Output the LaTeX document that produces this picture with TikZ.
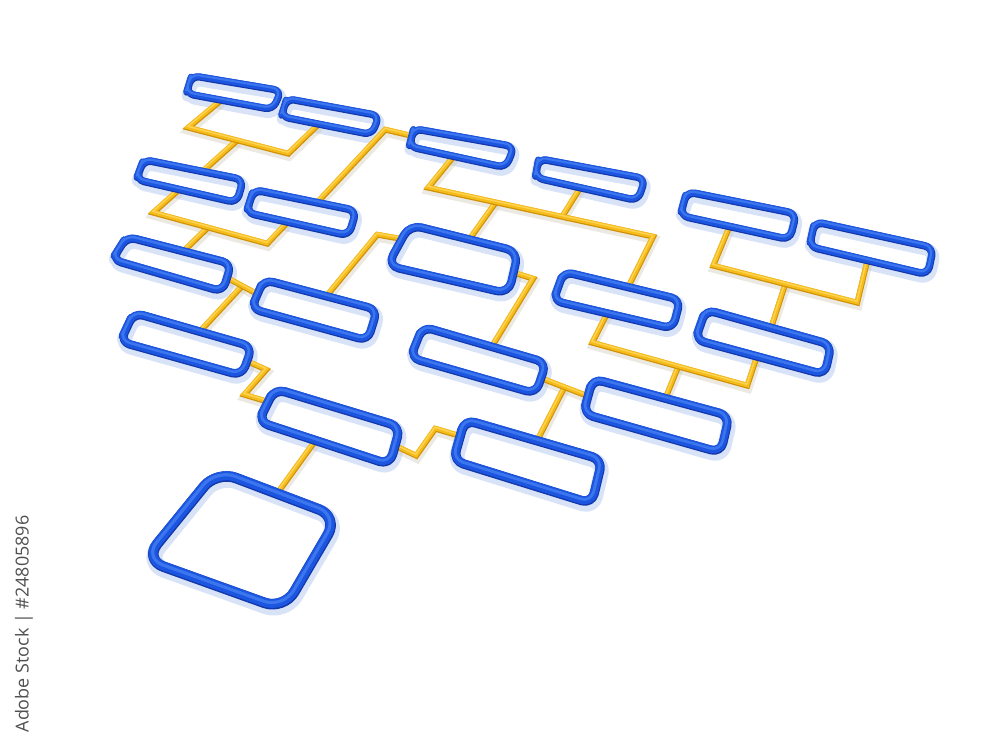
\documentclass[tikz,border=0pt]{standalone}
\usepackage{fontspec}
\newfontfamily\wmfont{Open Sans}
\usetikzlibrary{calc}
\definecolor{tubeblue}{RGB}{28,86,224}
\definecolor{tubebluedark}{RGB}{18,56,172}
\definecolor{tubebluelight}{RGB}{60,118,238}
\definecolor{tubeshadow}{RGB}{180,200,240}
\definecolor{tubeyel}{RGB}{245,188,26}
\definecolor{tubeyeldark}{RGB}{208,145,8}
\definecolor{tubeyellight}{RGB}{255,212,84}
\definecolor{yelshadow}{RGB}{205,200,182}
\definecolor{wmgray}{RGB}{80,80,80}
\pgfdeclarelayer{shadowlayer}
\pgfdeclarelayer{yellayer}
\pgfsetlayers{shadowlayer,yellayer,main}
\tikzset{
  bshadow/.style={draw=tubeshadow, line width=#1+1.6pt, opacity=0.5, line join=round, transform canvas={shift={(1.5,4)}}},
  bdark/.style={draw=tubebluedark, line width=#1, line join=round, transform canvas={shift={(0.3,0.8)}}},
  bmain/.style={draw=tubeblue, line width=0.85*#1, line join=round},
  blight/.style={draw=tubebluelight, line width=0.3*#1, line join=round, transform canvas={shift={(-0.3,-0.9)}}},
  yshadow/.style={draw=yelshadow, line width=2.5pt, opacity=0.4, line join=miter, transform canvas={shift={(1,3.5)}}},
  ydark/.style={draw=tubeyeldark, line width=1.6pt, line join=miter, transform canvas={shift={(0.3,0.8)}}},
  ymain/.style={draw=tubeyel, line width=1.3pt, line join=miter},
  ylight/.style={draw=tubeyellight, line width=0.4pt, line join=miter, transform canvas={shift={(-0.2,-0.7)}}},
  wmtext/.style={rotate=90, text=wmgray, font=\wmfont\fontsize{5.1}{6}\selectfont, inner sep=0pt}
}
% box: name, TL, TR, BR, BL, corner, tube width
\newcommand{\fcbox}[7]{%
  \coordinate (#1-1) at ($(#2)+(-1.5,-3)$);
  \coordinate (#1-2) at ($(#3)+(2,-3)$);
  \coordinate (#1-3) at ($(#4)+(1.5,3)$);
  \coordinate (#1-4) at ($(#5)+(-2,3)$);
  \coordinate (#1-s) at ($(#1-1)!0.5!(#1-4)$);
  \begin{pgfonlayer}{shadowlayer}
    \draw[bshadow=#7, rounded corners=#6] (#1-s) -- (#1-1) -- (#1-2) -- (#1-3) -- (#1-4) -- cycle;
  \end{pgfonlayer}
  \draw[bdark=#7, rounded corners=#6] (#1-s) -- (#1-1) -- (#1-2) -- (#1-3) -- (#1-4) -- cycle;
  \draw[bmain=#7, rounded corners=#6] (#1-s) -- (#1-1) -- (#1-2) -- (#1-3) -- (#1-4) -- cycle;
  \draw[blight=#7, rounded corners=#6] (#1-s) -- (#1-1) -- (#1-2) -- (#1-3) -- (#1-4) -- cycle;
}
\newcommand{\conn}[1]{%
  \begin{pgfonlayer}{shadowlayer}\draw[yshadow] #1;\end{pgfonlayer}
  \begin{pgfonlayer}{yellayer}\draw[ydark] #1; \draw[ymain] #1; \draw[ylight] #1;\end{pgfonlayer}
}
% point where the line from #2 towards the vanishing point meets edge #3--#4
\newcommand{\hit}[4]{%
  \coordinate (#1) at (intersection cs: first line={(#2)--(V)}, second line={(#3)--(#4)});
}
\begin{document}
\begin{tikzpicture}[x=0.01cm,y=-0.01cm]
\begin{pgfonlayer}{shadowlayer}
\fill[white] (0,0) rectangle (1000,745);
\end{pgfonlayer}
\useasboundingbox (0,0) rectangle (1000,745);
\coordinate (V) at (1075,-610);

% boxes
\fcbox{B1}{193,78}{279,93}{271,106}{188,90}{2.2pt}{2pt}
\fcbox{B2}{288,101}{377,118}{370,131}{283,113}{2.2pt}{2pt}
\fcbox{B3}{415,131}{512,149}{504,164}{411,143}{2.3pt}{2.05pt}
\fcbox{B4}{540,161}{643,181}{636,197}{537,174}{2.3pt}{2.05pt}
\fcbox{B5}{688,194}{794,216}{788,236}{682,212}{2.4pt}{2.1pt}
\fcbox{B6}{816,224}{931,250}{926,271}{811,243}{2.4pt}{2.1pt}
\fcbox{B7}{145,162}{241,182}{235,199}{138,176}{2.3pt}{2.1pt}
\fcbox{B8}{255,192}{354,213}{347,232}{248,209}{2.4pt}{2.15pt}
\fcbox{B9}{411,227}{516,254}{507,290}{389,262}{3.4pt}{2.35pt}
\fcbox{B10}{565,274}{678,302}{671,325}{555,297}{2.6pt}{2.3pt}
\fcbox{B11}{707,312}{829,347}{823,371}{697,336}{2.7pt}{2.4pt}
\fcbox{B12}{128,239}{229,266}{221,288}{114,256}{2.6pt}{2.3pt}
\fcbox{B13}{265,282}{375,312}{366,337}{253,305}{2.7pt}{2.35pt}
\fcbox{B14}{424,329}{544,365}{534,390}{412,354}{2.8pt}{2.4pt}
\fcbox{B15}{594,381}{727,418}{719,449}{585,410}{2.9pt}{2.5pt}
\fcbox{B16}{135,315}{250,349}{240,372}{122,338}{2.8pt}{2.4pt}
\fcbox{B17}{276,391}{398,429}{388,461}{260,418}{3pt}{2.6pt}
\fcbox{B18}{466,422}{600,462}{590,500}{455,457}{3pt}{2.65pt}
\fcbox{B19}{218,473}{336,519}{282,606}{146,556}{5.8pt}{3pt}

% C1: B1, B2 -> B7
\coordinate (c1a) at (188,127);
\coordinate (c1b) at (288,153);
\coordinate (c1j) at ($(c1a)!0.49!(c1b)$);
\hit{c1p}{c1a}{B1-4}{B1-3}
\hit{c1q}{c1b}{B2-4}{B2-3}
\hit{c1r}{c1j}{B7-1}{B7-2}
\conn{(c1j) -- (c1r)}
\conn{(c1p) -- (c1a) -- (c1b) -- (c1q)}

% C2: B7, B8 -> B12
\coordinate (c2a) at (153,212);
\coordinate (c2b) at (267,243);
\coordinate (c2j) at ($(c2a)!0.48!(c2b)$);
\hit{c2p}{c2a}{B7-4}{B7-3}
\hit{c2q}{c2b}{B8-4}{B8-3}
\hit{c2r}{c2j}{B12-1}{B12-2}
\conn{(c2j) -- (c2r)}
\conn{(c2p) -- (c2a) -- (c2b) -- (c2q)}

% C3: B8 -> B3
\coordinate (c3c) at (385,129);
\hit{c3p}{c3c}{B8-1}{B8-2}
\coordinate (c3q) at ($(B3-1)!0.4!(B3-4)$);
\conn{(c3p) -- (c3c) -- (c3q)}

% C4: B3, B4 -> B9, B10
\coordinate (c4a) at (428,187);
\coordinate (c4e) at (653,236);
\coordinate (c4b) at ($(c4a)!0.595!(c4e)$);
\coordinate (c4j) at ($(c4a)!0.3!(c4e)$);
\hit{c4p}{c4a}{B3-4}{B3-3}
\hit{c4q}{c4b}{B4-4}{B4-3}
\hit{c4r}{c4j}{B9-1}{B9-2}
\hit{c4s}{c4e}{B10-1}{B10-2}
\conn{(c4j) -- (c4r)}
\conn{(c4b) -- (c4q)}
\conn{(c4p) -- (c4a) -- (c4e) -- (c4s)}

% C5: B9 -> B14
\coordinate (c5f) at (533,278);
\coordinate (c5p) at ($(B9-2)!0.5!(B9-3)$);
\hit{c5q}{c5f}{B14-1}{B14-2}
\conn{(c5p) -- (c5f) -- (c5q)}

% C6: B13 -> B9
\coordinate (c6g) at (377,234);
\hit{c6p}{c6g}{B13-1}{B13-2}
\coordinate (c6q) at ($(B9-1)!0.35!(B9-4)$);
\conn{(c6p) -- (c6g) -- (c6q)}

% C7: B12 -- B13, drop to B16
\coordinate (c7p) at ($(B12-2)!0.5!(B12-3)$);
\coordinate (c7q) at ($(B13-1)!0.5!(B13-4)$);
\coordinate (c7j) at ($(c7p)!0.5!(c7q)$);
\hit{c7r}{c7j}{B16-1}{B16-2}
\conn{(c7j) -- (c7r)}
\conn{(c7p) -- (c7q)}

% C8: B16 -> B17
\coordinate (c8p) at ($(B16-2)!0.5!(B16-3)$);
\coordinate (c8a) at (266,369);
\coordinate (c8b) at (244,394);
\coordinate (c8q) at ($(B17-1)!0.4!(B17-4)$);
\conn{(c8p) -- (c8a) -- (c8b) -- (c8q)}

% C9: B17 -> B19
\coordinate (c9m) at (297,465);
\hit{c9p}{c9m}{B17-4}{B17-3}
\hit{c9q}{c9m}{B19-1}{B19-2}
\conn{(c9p) -- (c9q)}

% C10: B17 -> B18
\coordinate (c10p) at ($(B17-2)!0.5!(B17-3)$);
\coordinate (c10a) at (416,455);
\coordinate (c10b) at (435,428);
\coordinate (c10q) at ($(B18-1)!0.4!(B18-4)$);
\conn{(c10p) -- (c10a) -- (c10b) -- (c10q)}

% C11: B14 -- B15, drop to B18
\coordinate (c11p) at ($(B14-2)!0.5!(B14-3)$);
\coordinate (c11q) at ($(B15-1)!0.5!(B15-4)$);
\coordinate (c11j) at ($(c11p)!0.5!(c11q)$);
\hit{c11r}{c11j}{B18-1}{B18-2}
\conn{(c11j) -- (c11r)}
\conn{(c11p) -- (c11q)}

% C12: B10, B11 -> B15
\coordinate (c12a) at (592,342);
\coordinate (c12b) at (747,385);
\coordinate (c12j) at ($(c12a)!0.555!(c12b)$);
\hit{c12p}{c12a}{B10-4}{B10-3}
\hit{c12q}{c12b}{B11-4}{B11-3}
\hit{c12r}{c12j}{B15-1}{B15-2}
\conn{(c12j) -- (c12r)}
\conn{(c12p) -- (c12a) -- (c12b) -- (c12q)}

% C13: B5, B6 -> B11
\coordinate (c13a) at (713,265);
\coordinate (c13b) at (857,302);
\coordinate (c13j) at ($(c13a)!0.5!(c13b)$);
\hit{c13p}{c13a}{B5-4}{B5-3}
\hit{c13q}{c13b}{B6-4}{B6-3}
\hit{c13r}{c13j}{B11-1}{B11-2}
\conn{(c13j) -- (c13r)}
\conn{(c13p) -- (c13a) -- (c13b) -- (c13q)}

% side caption
\node[wmtext] (wm) at (24,624) {Adobe Stock | \#24805896};
\end{tikzpicture}
\end{document}
